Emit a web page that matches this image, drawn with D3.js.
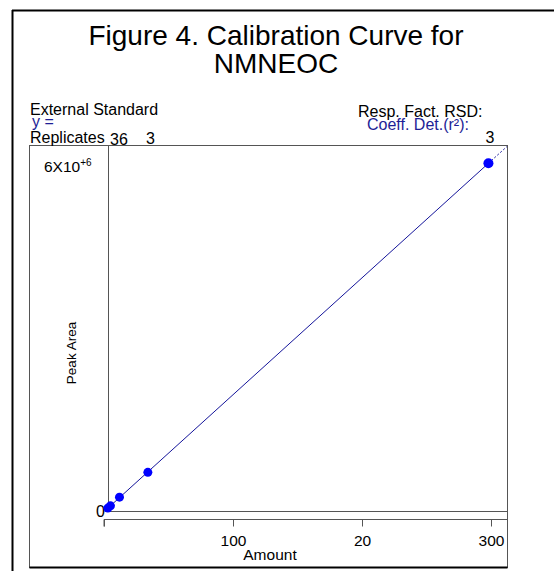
<!DOCTYPE html>
<html><head><meta charset="utf-8">
<script src="https://cdn.jsdelivr.net/npm/d3@7"></script>
<style>body{margin:0;background:#fff}svg{display:block}text{font-family:"Liberation Sans",Arial,sans-serif}</style>
</head><body>
<script>
const amounts = [3, 5, 12, 34, 298];
const peakAreas = [0.05e6, 0.09e6, 0.24e6, 0.67e6, 6.03e6];
const xTickValues = [0, 100, 200, 300];
const xTickLabels = ["", "100", "20", "300"];
const yTickValues = [0, 6e6];
const titleLines = ["Figure 4. Calibration Curve for", "NMNEOC"];

const W = 554, H = 571;
const svg = d3.select("body").append("svg").attr("width", W).attr("height", H);

// outer frame
svg.append("line").attr("x1",12.5).attr("x2",12.5).attr("y1",10).attr("y2",H).attr("stroke","#000").attr("stroke-width",2);
svg.append("line").attr("x1",12).attr("x2",W).attr("y1",10.5).attr("y2",10.5).attr("stroke","#000").attr("stroke-width",2);

// title
svg.append("g").selectAll("text").data(titleLines).join("text")
  .attr("x",276).attr("y",(d,i)=>45+i*28).attr("text-anchor","middle")
  .attr("font-size",28).attr("fill","#000").text(d=>d);

// inner box
const box = {x0:29.5, x1:507.5, y0:145.5, y1:567.5};
svg.append("rect").attr("x",box.x0).attr("y",box.y0).attr("width",box.x1-box.x0).attr("height",box.y1-box.y0)
  .attr("fill","none").attr("stroke","#555").attr("stroke-width",1);
svg.append("line").attr("x1",box.x0).attr("x2",box.x1).attr("y1",box.y1).attr("y2",box.y1).attr("stroke","#000").attr("stroke-width",2);

// header texts
const blue = "#1e1e96";
const hdr = svg.append("g").attr("font-size",16);
hdr.append("text").attr("x",30).attr("y",115).text("External Standard");
hdr.append("text").attr("x",32).attr("y",127).attr("fill",blue).text("y =");
hdr.append("text").attr("x",30).attr("y",143).text("Replicates");
hdr.append("text").attr("x",110).attr("y",145).text("36");
hdr.append("text").attr("x",146).attr("y",144).text("3");
hdr.append("text").attr("x",358).attr("y",117).text("Resp. Fact. RSD:");
hdr.append("text").attr("x",367).attr("y",130).attr("fill",blue).text("Coeff. Det.(r²):");
hdr.append("text").attr("x",490).attr("y",143).attr("text-anchor","middle").text("3");

// scales
const x = d3.scaleLinear().domain([0, 312.4]).range([104, 507]);
const y = d3.scaleLinear().domain([0, 6e6]).range([511, 165]);

// plot axes lines
svg.append("line").attr("x1",108.5).attr("x2",108.5).attr("y1",145).attr("y2",511.5).attr("stroke","#555");
svg.append("line").attr("x1",108).attr("x2",507).attr("y1",511.5).attr("y2",511.5).attr("stroke","#555");

// y tick labels
svg.append("text").attr("x",105).attr("y",y(0)+6).attr("text-anchor","end").attr("font-size",16).text("0");
const yl = svg.append("text").attr("x",44).attr("y",y(yTickValues[1])+7).attr("font-size",15.5);
yl.append("tspan").text("6X10");
yl.append("tspan").attr("dy",-6).attr("font-size",10).text("+6");

// x axis (separate)
const xAxis = d3.axisBottom(x).tickValues(xTickValues).tickFormat((d,i)=>xTickLabels[i]).tickSize(7).tickSizeOuter(0);
const gx = svg.append("g").attr("transform","translate(0,519.5)").call(xAxis);
gx.select(".domain").attr("stroke","#555").attr("d","M104,7V0H507");
gx.selectAll(".tick line").attr("stroke","#555");
gx.selectAll(".tick text").attr("font-size",15.5).attr("font-family","Liberation Sans, Arial, sans-serif").attr("fill","#000").attr("y",26).attr("dy",0);

svg.append("text").attr("x",270).attr("y",560).attr("text-anchor","middle").attr("font-size",15.5).text("Amount");
svg.append("text").attr("transform","translate(76,353) rotate(-90)").attr("text-anchor","middle")
  .attr("font-size",13.5).attr("font-family","'Open Sans',sans-serif").text("Peak Area");

// regression
const n = amounts.length;
const mx = d3.mean(amounts), my = d3.mean(peakAreas);
let sxy=0, sxx=0;
for (let i=0;i<n;i++){ sxy += (amounts[i]-mx)*(peakAreas[i]-my); sxx += (amounts[i]-mx)**2; }
const b = sxy/sxx, a = my - b*mx;
const xMax = d3.max(amounts), xEnd = x.domain()[1];
const line = d3.line().x(d=>x(d)).y(d=>y(a+b*d));
svg.append("path").attr("d",line([0.5, xMax])).attr("stroke","#14149a").attr("fill","none").attr("stroke-width",1);
svg.append("path").attr("d",line([xMax, xEnd])).attr("stroke","#14149a").attr("fill","none").attr("stroke-width",1).attr("stroke-dasharray","2,2");

// points
svg.append("g").selectAll("circle").data(amounts).join("circle")
  .attr("cx",d=>x(d)).attr("cy",(d,i)=>y(peakAreas[i])).attr("r",(d,i)=>i===n-1?5:4.5)
  .attr("fill","#0000ff");
</script>
</body></html>
